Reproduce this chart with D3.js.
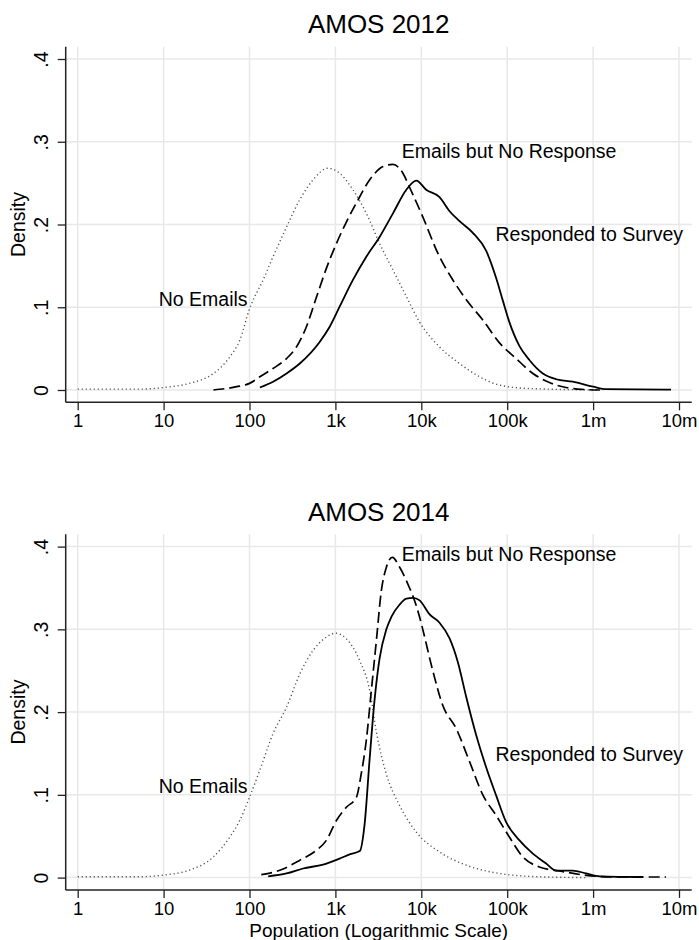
<!DOCTYPE html>
<html>
<head>
<meta charset="utf-8">
<script src="https://cdn.jsdelivr.net/npm/d3@7"></script>
<style>
  body { margin: 0; background: #fff; }
  svg { font-family: "Liberation Sans", Arial, Helvetica, sans-serif; }
</style>
</head>
<body>
<svg id="chart" width="699" height="940"></svg>
<script>
// tick values and labels
const xTicks = [1, 10, 100, 1e3, 1e4, 1e5, 1e6, 1e7];
const xTickLabels = ["1", "10", "100", "1k", "10k", "100k", "1m", "10m"];
const yTicks = [0, 0.1, 0.2, 0.3, 0.4];
const yTickLabels = ["0", ".1", ".2", ".3", ".4"];

const titles = ["AMOS 2012", "AMOS 2014"];
const seriesNames = ["No Emails", "Emails but No Response", "Responded to Survey"];

// density curves, [population, density]
const noEmails2012 = [[1,0.001],[5,0.001],[10,0.003],[20,0.008],[38,0.02],[59,0.04],[77,0.06],[100,0.098],[144,0.133],[188,0.161],[270,0.197],[385,0.23],[550,0.254],[820,0.268],[1120,0.262],[1600,0.242],[2290,0.2135],[3270,0.177],[4680,0.145],[6700,0.113],[9550,0.082],[16300,0.052],[27900,0.032],[47600,0.016],[81000,0.006],[166000,0.002],[1200000,0]];
const emailsNoResp2012 = [[38,0],[71,0.004],[100,0.008],[132,0.016],[188,0.026],[270,0.038],[352,0.052],[460,0.0765],[601,0.112],[785,0.147],[1027,0.177],[1342,0.203],[1754,0.226],[2510,0.254],[3580,0.27],[4680,0.2727],[6110,0.262],[7300,0.245],[10000,0.2135],[16300,0.161],[23300,0.133],[33400,0.109],[52000,0.0846],[81300,0.057],[127000,0.038],[199000,0.02],[310000,0.009],[485000,0.003],[830000,0.0005],[1200000,0]];
const responded2012 = [[132,0.003],[188,0.01],[270,0.02],[385,0.032],[656,0.058],[858,0.0765],[1120,0.1007],[1600,0.133],[2290,0.161],[3270,0.185],[4680,0.2135],[6700,0.242],[8750,0.253],[11400,0.242],[16300,0.233],[21350,0.216],[27900,0.204],[39800,0.19],[57000,0.168],[74500,0.135],[89000,0.108],[106000,0.082],[139000,0.053],[182000,0.036],[260000,0.02],[371000,0.013],[580000,0.01],[1000000,0.004],[1420000,0.001],[8070000,0.0005]];

const noEmails2014 = [[1,0.001],[5,0.001],[10,0.003],[20,0.009],[38,0.025],[59,0.049],[77,0.069],[100,0.097],[132,0.13],[188,0.174],[270,0.206],[385,0.246],[550,0.2745],[785,0.2906],[1000,0.2954],[1342,0.2887],[1920,0.262],[2510,0.226],[3000,0.176],[3920,0.125],[5600,0.087],[8750,0.055],[16300,0.031],[33400,0.015],[81300,0.005],[237000,0.001],[830000,0]];
const emailsNoResp2014 = [[137,0.0036],[225,0.0088],[385,0.021],[600,0.033],[785,0.045],[1027,0.069],[1342,0.085],[1754,0.097],[2000,0.1256],[2290,0.166],[2620,0.226],[3000,0.2866],[3430,0.347],[3920,0.375],[4600,0.387],[5600,0.375],[7300,0.35],[8000,0.34],[9550,0.315],[10400,0.3],[13600,0.25],[17800,0.208],[25500,0.18],[36500,0.14],[52000,0.1],[74500,0.075],[106000,0.049],[152000,0.025],[237000,0.0128],[405000,0.008],[830000,0.0028],[1850000,0.0007],[7060000,0.0007]];
const responded2014 = [[165,0.0016],[270,0.005],[420,0.011],[718,0.0157],[1120,0.023],[1465,0.028],[1920,0.032],[2190,0.065],[2510,0.145],[2860,0.215],[3270,0.265],[3920,0.3],[4480,0.315],[5600,0.33],[6700,0.337],[8000,0.338],[9550,0.335],[12500,0.318],[16300,0.308],[21350,0.289],[26700,0.26],[33400,0.218],[43600,0.172],[57000,0.133],[74500,0.099],[97300,0.067],[139000,0.045],[199000,0.029],[284000,0.017],[371000,0.0085],[580000,0.0085],[830000,0.005],[1200000,0.0016],[3800000,0.0007]];

// label anchor points, [population, density]
const labels2012 = [[95, 0.11], [5940, 0.289], [73000, 0.1886]];
const labels2014 = [[95, 0.11], [5940, 0.3906], [73000, 0.149]];

const panels = [
  { title: titles[0], series: [noEmails2012, emailsNoResp2012, responded2012], labels: labels2012 },
  { title: titles[1], series: [noEmails2014, emailsNoResp2014, responded2014], labels: labels2014 }
];

const lineStyles = [
  { stroke: "#555", width: 1.4, dash: "1.2,2.8" },
  { stroke: "#000", width: 1.7, dash: "11,5" },
  { stroke: "#000", width: 1.8, dash: null }
];

// frame of each plot region
const frameLeft = 65.7, frameRight = 691.7, frameHeight = 355.6;
const panelTops = [46.7, 534.3];
const inset = 12.3;

const x = d3.scaleLog().domain([1, 1e7]).range([77.7, 679]);
const y = d3.scaleLinear().domain([0, 0.4]).range([frameHeight - inset, inset]);

const svg = d3.select("#chart");
const axisColor = "#222";
const fontSize = 19.5;
const tickFont = 18.5;

panels.forEach((p, pi) => {
  const g = svg.append("g").attr("transform", "translate(0," + panelTops[pi] + ")");

  // grid
  g.selectAll(".vgrid").data(xTicks).enter().append("line")
    .attr("x1", d => x(d)).attr("x2", d => x(d))
    .attr("y1", 0).attr("y2", frameHeight)
    .style("stroke", "#e8e8e8").style("stroke-width", 1.5);
  g.selectAll(".hgrid").data(yTicks).enter().append("line")
    .attr("x1", frameLeft).attr("x2", frameRight)
    .attr("y1", d => y(d)).attr("y2", d => y(d))
    .style("stroke", "#e8e8e8").style("stroke-width", 1.5);

  // curves
  const line = d3.line()
    .x(d => x(d[0]))
    .y(d => y(d[1]))
    .curve(d3.curveMonotoneX);
  p.series.forEach((s, si) => {
    const st = lineStyles[si];
    g.append("path")
      .attr("d", line(s))
      .style("fill", "none")
      .style("stroke", st.stroke)
      .style("stroke-width", st.width)
      .style("stroke-dasharray", st.dash)
      .style("stroke-linejoin", "round");
  });

  // annotations
  p.labels.forEach((l, li) => {
    g.append("text")
      .attr("x", x(l[0]))
      .attr("y", y(l[1]))
      .attr("dy", "0.35em")
      .attr("text-anchor", li === 0 ? "end" : "start")
      .style("font-size", fontSize + "px")
      .style("fill", "#000")
      .text(seriesNames[li]);
  });

  // x axis
  const xAxis = d3.axisBottom(x)
    .tickValues(xTicks)
    .tickFormat((d, i) => xTickLabels[i])
    .tickSize(8)
    .tickPadding(4);
  const gx = g.append("g").attr("transform", "translate(0," + frameHeight + ")").call(xAxis);
  gx.select(".domain").remove();
  gx.selectAll(".tick line").style("stroke", axisColor).style("stroke-width", 1.3);
  gx.selectAll(".tick text").style("font-size", tickFont + "px").style("fill", "#000")
    .style("font-family", "\"Liberation Sans\", Arial, sans-serif");
  g.append("line")
    .attr("x1", frameLeft).attr("x2", frameRight)
    .attr("y1", frameHeight).attr("y2", frameHeight)
    .style("stroke", axisColor).style("stroke-width", 1.5);

  // y axis
  const yAxis = d3.axisLeft(y)
    .tickValues(yTicks)
    .tickFormat((d, i) => yTickLabels[i])
    .tickSize(8);
  const gy = g.append("g").attr("transform", "translate(" + frameLeft + ",0)").call(yAxis);
  gy.select(".domain").remove();
  gy.selectAll(".tick line").style("stroke", axisColor).style("stroke-width", 1.3);
  gy.selectAll(".tick text")
    .attr("x", 0).attr("y", -17.7).attr("dy", 0)
    .attr("transform", "rotate(-90)")
    .attr("text-anchor", "middle")
    .style("font-size", fontSize + "px").style("fill", "#000")
    .style("font-family", "\"Liberation Sans\", Arial, sans-serif");
  g.append("line")
    .attr("x1", frameLeft).attr("x2", frameLeft)
    .attr("y1", 0).attr("y2", frameHeight)
    .style("stroke", axisColor).style("stroke-width", 1.5);

  // y title
  g.append("text")
    .attr("transform", "translate(25," + (y(0) + y(0.4)) / 2 + ") rotate(-90)")
    .attr("text-anchor", "middle")
    .style("font-size", fontSize + "px")
    .text("Density");

  // panel title
  g.append("text")
    .attr("x", (frameLeft + frameRight) / 2)
    .attr("y", -13.5)
    .attr("text-anchor", "middle")
    .style("font-size", "26px")
    .text(p.title);
});

// x title under the lower panel
svg.append("text")
  .attr("x", (frameLeft + frameRight) / 2)
  .attr("y", 936.5)
  .attr("text-anchor", "middle")
  .style("font-size", "19px")
  .text("Population (Logarithmic Scale)");
</script>
</body>
</html>
